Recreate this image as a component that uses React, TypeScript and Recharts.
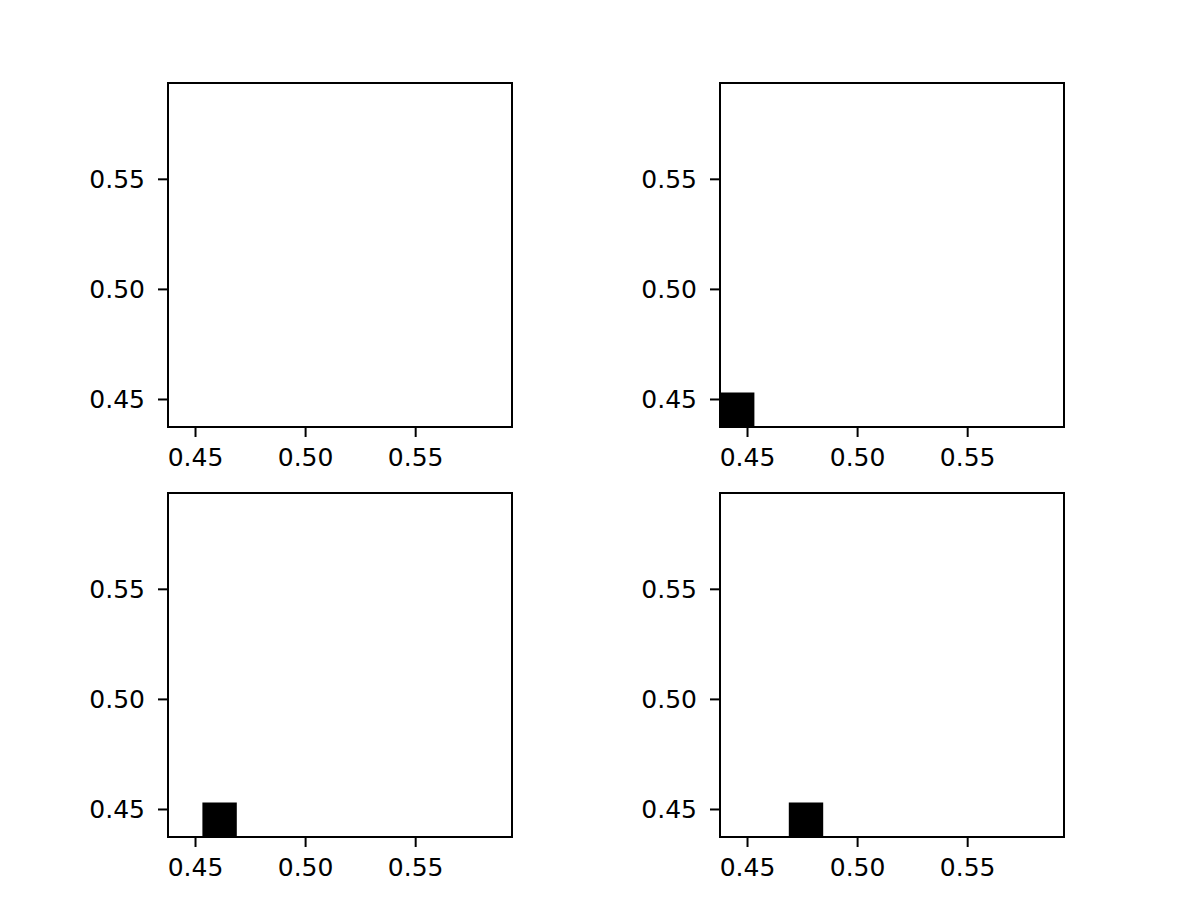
import { ComposedChart, XAxis, YAxis, ReferenceArea } from "recharts"

// axis limits shared by all four panels (imshow extent)
const xDomain: [number, number] = [0.4375, 0.59375]
const yDomain: [number, number] = [0.4375, 0.59375]
const tickValues = [0.45, 0.5, 0.55]

// filled (black) cell per panel, in data coords; panel 1 is empty
const cellX1 = [null, 0.4375, 0.453125, 0.46875]
const cellX2 = [null, 0.453125, 0.46875, 0.484375]
const cellY1 = [null, 0.4375, 0.4375, 0.4375]
const cellY2 = [null, 0.453125, 0.453125, 0.453125]

const BOX = 344
const LEFT_W = 100
const PAD = 12
const BOTTOM_H = 60
const boxLeft = [168, 720, 168, 720]
const boxTop = [83, 83, 493, 493]

const tickStyle = { fontSize: 25, fill: "#000", fontFamily: "DejaVu Sans" }
const fmt = (v: number) => v.toFixed(2)

function Panel({ i }: { i: number }) {
  return (
    <div style={{ position: "absolute", left: boxLeft[i] - LEFT_W, top: boxTop[i] - PAD }}>
      <ComposedChart
        width={LEFT_W + BOX + PAD}
        height={PAD + BOX + BOTTOM_H}
        data={[]}
        margin={{ top: PAD, right: PAD, left: 0, bottom: 0 }}
      >
        <XAxis
          type="number"
          dataKey="x"
          domain={xDomain}
          allowDataOverflow
          ticks={tickValues}
          tickFormatter={fmt}
          height={BOTTOM_H}
          tick={tickStyle}
          tickSize={10}
          tickMargin={11}
          axisLine={{ stroke: "#000", strokeWidth: 2 }}
          tickLine={{ stroke: "#000", strokeWidth: 2 }}
          interval={0}
        />
        <YAxis
          type="number"
          dataKey="y"
          domain={yDomain}
          allowDataOverflow
          ticks={tickValues}
          tickFormatter={fmt}
          width={LEFT_W}
          tick={tickStyle}
          tickSize={10}
          tickMargin={13}
          axisLine={{ stroke: "#000", strokeWidth: 2 }}
          tickLine={{ stroke: "#000", strokeWidth: 2 }}
          interval={0}
        />
        {cellX1[i] !== null && (
          <ReferenceArea
            x1={cellX1[i] as number}
            x2={cellX2[i] as number}
            y1={cellY1[i] as number}
            y2={cellY2[i] as number}
            fill="#000"
            fillOpacity={1}
            stroke="none"
          />
        )}
        <ReferenceArea
          x1={xDomain[0]}
          x2={xDomain[1]}
          y1={yDomain[0]}
          y2={yDomain[1]}
          fill="none"
          stroke="#000"
          strokeWidth={2}
          strokeOpacity={1}
        />
      </ComposedChart>
    </div>
  )
}

export default function App() {
  return (
    <div style={{ position: "absolute", left: 0, top: 0, width: 1196, height: 922, background: "#fff" }}>
      {[0, 1, 2, 3].map((i) => (
        <Panel key={i} i={i} />
      ))}
    </div>
  )
}
